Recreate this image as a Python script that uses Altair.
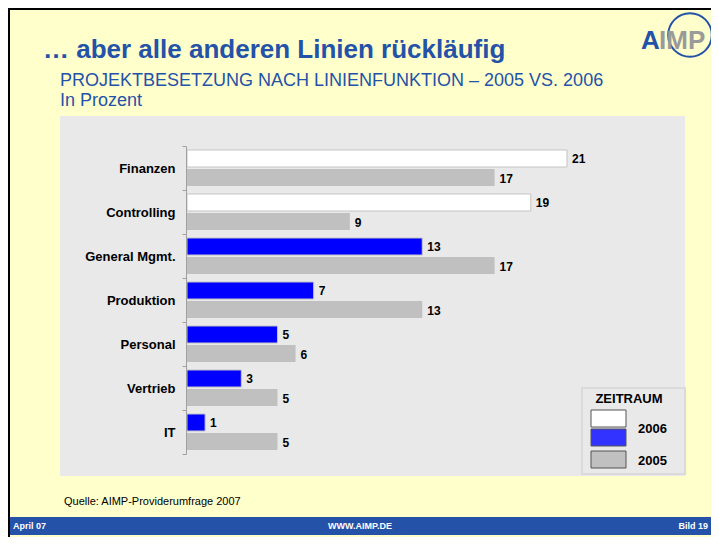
import altair as alt
import pandas as pd

# ---- data ----
kategorien = ["Finanzen", "Controlling", "General Mgmt.", "Produktion", "Personal", "Vertrieb", "IT"]
werte_2006 = [21, 19, 13, 7, 5, 3, 1]
werte_2005 = [17, 9, 17, 13, 6, 5, 5]
zeitraeume = ["2006", "2005"]

rows = []
for k, a, b in zip(kategorien, werte_2006, werte_2005):
    rows.append({"kategorie": k, "zeitraum": "2006", "wert": a,
                 "serie": "2006 gestiegen" if a > b else "2006 rückläufig"})
    rows.append({"kategorie": k, "zeitraum": "2005", "wert": b, "serie": "2005"})
df = pd.DataFrame(rows)

F = "Liberation Sans, Arial, Helvetica, sans-serif"
BLUE = "#2352A8"
YELLOW = "#FFFFCC"
PANEL = "#E9E9E9"
W, H = 703, 529

one = pd.DataFrame({"_": [0]})
base = alt.Chart(one)


def rect(x, x2, y, y2, fill, stroke=None, sw=0):
    kw = {"fill": fill}
    if stroke:
        kw.update(stroke=stroke, strokeWidth=sw)
    return base.mark_rect(**kw).encode(x=alt.value(x), x2=alt.value(x2), y=alt.value(y), y2=alt.value(y2))


def txt(s, x, y, size, color="black", weight="normal", align="left", baseline="alphabetic"):
    return base.mark_text(text=s, font=F, fontSize=size, fontWeight=weight, color=color,
                          align=align, baseline=baseline).encode(x=alt.value(x), y=alt.value(y))


# ---- scales / encodings ----
y_enc = alt.Y("kategorie:N", sort=kategorien,
              scale=alt.Scale(range=[138, 446], paddingInner=0, paddingOuter=0),
              axis=alt.Axis(orient="left", offset=-178, title=None, grid=False, zindex=2,
                            domainColor="#A0A0A0", domainWidth=1,
                            ticks=True, tickBand="extent", tickSize=4, tickColor="#A0A0A0",
                            labelFont=F, labelFontSize=13, labelFontWeight="bold",
                            labelColor="black", labelPadding=7))
yoff = alt.YOffset("zeitraum:N", sort=zeitraeume,
                   scale=alt.Scale(paddingInner=0.105, paddingOuter=0.21))
x_enc = alt.X("wert:Q", scale=alt.Scale(domain=[0, 21], range=[179, 559]), axis=None)

bars = alt.Chart(df).mark_bar(stroke="#C4C4C4").encode(
    x=x_enc, y=y_enc, yOffset=yoff,
    color=alt.Color("serie:N",
                    scale=alt.Scale(domain=["2006 gestiegen", "2006 rückläufig", "2005"],
                                    range=["#FFFFFF", "#0000FF", "#C0C0C0"]),
                    legend=None),
    strokeWidth=alt.condition(alt.datum.zeitraum == "2006", alt.value(1), alt.value(0)),
)

werte_txt = alt.Chart(df).mark_text(align="left", baseline="middle", dx=5, dy=1, font=F,
                                    fontSize=12, fontWeight="bold", color="black").encode(
    x=x_enc, y=y_enc, yOffset=yoff, text="wert:Q")

# ---- slide decoration ----
frame = [
    rect(0, W, 0, 2, "#000000"),
    rect(0, 2, 0, H, "#000000"),
]
panel = rect(52, 677, 108, 468, PANEL)

legend = [
    rect(574, 677, 380, 466, PANEL, stroke="#DADADA", sw=2),
    txt("ZEITRAUM", 621, 395, 13, weight="bold", align="center"),
    rect(583, 618, 402, 419, "#FFFFFF", stroke="#555555", sw=1),
    rect(583, 618, 421, 438, "#3333FF", stroke="#555555", sw=1),
    rect(583, 618, 443, 460, "#C0C0C0", stroke="#555555", sw=1),
    txt("2006", 630, 425, 13, weight="bold"),
    txt("2005", 630, 457, 13, weight="bold"),
]

titles = [
    txt("… aber alle anderen Linien rückläufig", 35, 50, 26, color=BLUE, weight="bold"),
    txt("PROJEKTBESETZUNG NACH LINIENFUNKTION – 2005 VS. 2006", 52, 78, 18, color=BLUE),
    txt("In Prozent", 52, 98, 18, color=BLUE),
    txt("Quelle: AIMP-Providerumfrage 2007", 56, 497, 11),
]

footer = [
    rect(2, W, 509, 527, BLUE),
    txt("April 07", 5, 521, 9, color="white", weight="bold"),
    txt("WWW.AIMP.DE", 352, 521, 9, color="white", weight="bold", align="center"),
    txt("Bild 19", 700, 521, 9, color="white", weight="bold", align="right"),
]

logo = [
    base.mark_point(shape="circle", filled=False, size=1900, strokeWidth=2, color=BLUE,
                    opacity=1).encode(x=alt.value(682), y=alt.value(27)),
    txt("A", 633, 41, 26, color=BLUE, weight="bold"),
    txt("IMP", 651, 41, 26, color="#9A9A9A", weight="bold"),
]

chart = alt.layer(
    *frame, panel, *legend, bars, werte_txt, *titles, *footer, *logo
).properties(
    width=W, height=H, background=YELLOW, padding=0,
    autosize=alt.AutoSizeParams(type="none"),
).configure_view(strokeWidth=0)

chart.save("out.html", embed_options={"renderer": "svg", "actions": False})
